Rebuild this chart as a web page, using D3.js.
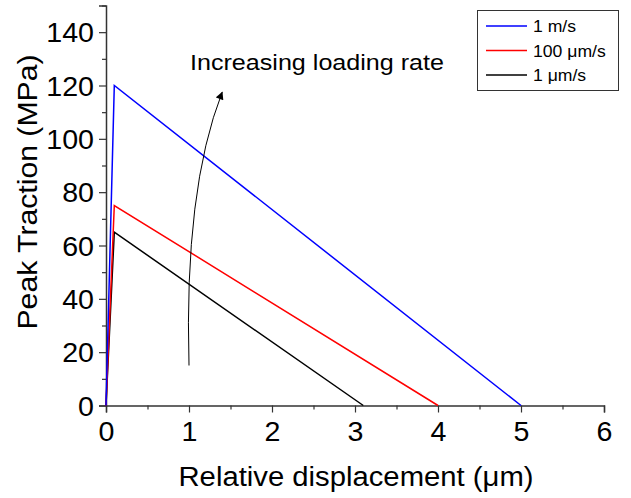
<!DOCTYPE html>
<html>
<head>
<meta charset="utf-8">
<script src="https://cdn.jsdelivr.net/npm/d3@7"></script>
<style>
  html, body { margin: 0; padding: 0; background: #fff; }
  text { font-family: Arial, "Liberation Sans", sans-serif; }
</style>
</head>
<body>
<svg id="chart" width="631" height="498"></svg>
<script>
// ---- data ----
const seriesNames = ["1 m/s", "100 \u03bcm/s", "1 \u03bcm/s"];
const seriesColors = ["#0000ff", "#ff0000", "#000000"];
const blueX = [0, 0.1, 5.0];
const blueY = [0, 120, 0];
const redX = [0, 0.1, 4.0];
const redY = [0, 75, 0];
const blackX = [0, 0.1, 3.1];
const blackY = [0, 65, 0];
const xTicks = [0, 1, 2, 3, 4, 5, 6];
const yTicks = [0, 20, 40, 60, 80, 100, 120, 140];
const xMinorTicks = [0.5, 1.5, 2.5, 3.5, 4.5, 5.5];
const yMinorTicks = [10, 30, 50, 70, 90, 110, 130, 150];
const arrowX = [1.0, 0.94, 1.40];
const arrowY = [15, 81, 117.5];
const annotation = "Increasing loading rate";

const svg = d3.select("#chart");
const x = d3.scaleLinear().domain([0, 6]).range([106, 604]);
const y = d3.scaleLinear().domain([0, 150]).range([405.5, 5.5]);

const axisColor = "#333";

function stretch(sel, factor) {
  sel.each(function () {
    const w = this.getComputedTextLength();
    d3.select(this).attr("textLength", w * factor).attr("lengthAdjust", "spacingAndGlyphs");
  });
}
function fitWidth(sel, width) {
  sel.attr("textLength", width).attr("lengthAdjust", "spacingAndGlyphs");
}

// x axis
const xg = svg.append("g").attr("transform", `translate(0,${y(0)})`)
  .call(d3.axisBottom(x).tickValues(xTicks).tickFormat(d3.format("d")).tickSizeOuter(0).tickSize(7).tickPadding(9));
const xMinor = svg.append("g").attr("transform", `translate(0,${y(0)})`)
  .call(d3.axisBottom(x).tickValues(xMinorTicks).tickFormat("").tickSizeOuter(0).tickSize(4));
xMinor.select(".domain").remove();

// y axis
const yg = svg.append("g").attr("transform", `translate(${x(0)},0)`)
  .call(d3.axisLeft(y).tickValues(yTicks).tickFormat(d3.format("d")).tickSizeOuter(0).tickSize(7).tickPadding(5));
const yMinor = svg.append("g").attr("transform", `translate(${x(0)},0)`)
  .call(d3.axisLeft(y).tickValues(yMinorTicks).tickFormat("").tickSizeOuter(0).tickSize(4));
yMinor.select(".domain").remove();

svg.selectAll(".domain").attr("stroke", axisColor).attr("stroke-width", 1.5);
svg.selectAll(".tick line").attr("stroke", axisColor).attr("stroke-width", 1.2);
const tickTexts = svg.selectAll(".tick text").attr("font-size", 27).attr("fill", "#000")
  .attr("font-family", "Arial, 'Liberation Sans', sans-serif");
yg.selectAll(".tick text").attr("dy", "0.36em");
stretch(tickTexts, 1.06);

// axis titles
const xt = svg.append("text").attr("x", (x(0) + x(6)) / 2 + 1).attr("y", 486)
  .attr("text-anchor", "middle").attr("font-size", 27).text("Relative displacement (\u03bcm)");
fitWidth(xt, 355);
const yt = svg.append("text").attr("transform", `translate(37,192) rotate(-90)`)
  .attr("text-anchor", "middle").attr("font-size", 27).text("Peak Traction (MPa)");
fitWidth(yt, 275);

// lines
const seriesData = [
  blueX.map((d, i) => [d, blueY[i]]),
  redX.map((d, i) => [d, redY[i]]),
  blackX.map((d, i) => [d, blackY[i]])
];
const line = d3.line().x(d => x(d[0])).y(d => y(d[1]));
[2, 1, 0].forEach(i => {
  svg.append("path").datum(seriesData[i]).attr("d", line)
    .attr("fill", "none").attr("stroke", seriesColors[i]).attr("stroke-width", 1.5)
    .attr("stroke-linejoin", "miter");
});

// arrow
svg.append("defs").append("marker").attr("id", "ah")
  .attr("viewBox", "0 0 10 10").attr("refX", 9).attr("refY", 5)
  .attr("markerWidth", 10).attr("markerHeight", 8).attr("markerUnits", "userSpaceOnUse")
  .attr("orient", "auto")
  .append("path").attr("d", "M0,0 L10,5 L0,10 Z").attr("fill", "#000");
const p0 = [x(arrowX[0]), y(arrowY[0])], p1 = [x(arrowX[1]), y(arrowY[1])], p2 = [x(arrowX[2]), y(arrowY[2])];
const ap = d3.path();
ap.moveTo(p0[0], p0[1]);
ap.quadraticCurveTo(p1[0], p1[1], p2[0], p2[1]);
svg.append("path").attr("d", ap.toString()).attr("fill", "none")
  .attr("stroke", "#000").attr("stroke-width", 1).attr("marker-end", "url(#ah)");

const at = svg.append("text").attr("x", 190).attr("y", 70).attr("font-size", 22).text(annotation);
fitWidth(at, 254);

// legend
const lg = svg.append("g");
lg.append("rect").attr("x", 477.5).attr("y", 10.5).attr("width", 141).attr("height", 80)
  .attr("fill", "#fff").attr("stroke", "#333").attr("stroke-width", 1);
seriesNames.forEach((name, i) => {
  const yy = 26 + i * 24.5;
  lg.append("line").attr("x1", 486).attr("x2", 527).attr("y1", yy).attr("y2", yy)
    .attr("stroke", seriesColors[i]).attr("stroke-width", 1.5);
  const t = lg.append("text").attr("x", 533).attr("y", yy + 6).attr("font-size", 16).text(name);
  stretch(t, 1.1);
});
</script>
</body>
</html>
